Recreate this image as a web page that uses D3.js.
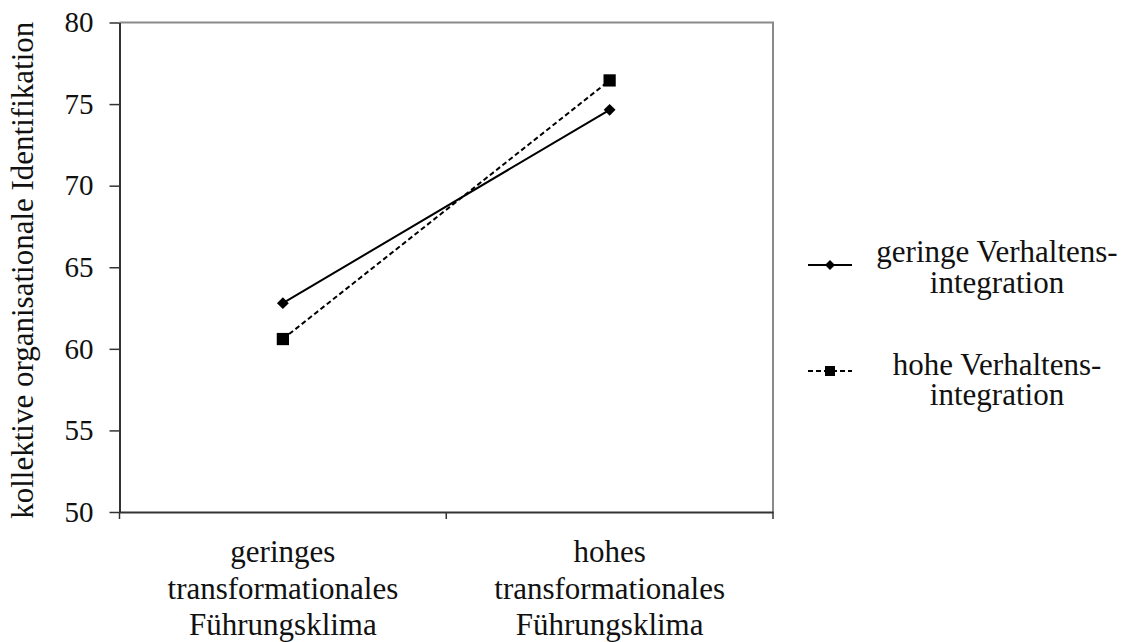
<!DOCTYPE html>
<html>
<head>
<meta charset="utf-8">
<script src="https://cdn.jsdelivr.net/npm/d3@7"></script>
</head>
<body style="margin:0;padding:0;background:#fff">
<svg id="chart" width="1125" height="642" style="display:block" font-family="Liberation Serif"></svg>
<script>
// ---- data ----
const categories = ["geringes transformationales Führungsklima", "hohes transformationales Führungsklima"];
const categoryLines = [["geringes", "transformationales", "Führungsklima"], ["hohes", "transformationales", "Führungsklima"]];
const seriesNames = ["geringe Verhaltens-integration", "hohe Verhaltens-integration"];
const seriesLabelLines = [["geringe Verhaltens-", "integration"], ["hohe Verhaltens-", "integration"]];
const geringeValues = [62.8, 74.65];
const hoheValues = [60.6, 76.45];
const yTicks = [50, 55, 60, 65, 70, 75, 80];
const yTitle = "kollektive organisationale Identifikation";

(function () {
const FONT = "Liberation Serif";
const setFont = (sel, size) => sel.attr("font-family", FONT).attr("font-size", size)
  .style("font-family", `'${FONT}'`).style("font-size", size + "px");
const svg = d3.select("#chart");
const pLeft = 119.5, pRight = 773, pTop = 22.5, pBottom = 512;

const x = d3.scaleBand().domain(categories).range([pLeft, pRight]).paddingInner(0).paddingOuter(0);
const y = d3.scaleLinear().domain([50, 80]).range([pBottom, pTop]);

// plot border (top/right, gray)
svg.append("path")
  .attr("d", `M${pLeft},${pTop}H${pRight}V${pBottom}`)
  .attr("fill", "none").attr("stroke", "#8a8a8a").attr("stroke-width", 2);

// y axis
const yAxis = svg.append("g").attr("transform", `translate(${pLeft},0)`)
  .call(d3.axisLeft(y).tickValues(yTicks).tickSize(10).tickPadding(16).tickSizeOuter(0));
setFont(yAxis, 29);
yAxis.select(".domain").attr("stroke", "#333").attr("stroke-width", 2);
yAxis.selectAll(".tick line").attr("stroke", "#333").attr("stroke-width", 1.5);
setFont(yAxis.selectAll(".tick text"), 29).attr("fill", "#111");

// x axis
const xAxis = svg.append("g").attr("transform", `translate(0,${pBottom})`)
  .call(d3.axisBottom(x).tickSize(0).tickSizeOuter(0).tickFormat(""));
xAxis.select(".domain").attr("stroke", "#333").attr("stroke-width", 2);
xAxis.selectAll(".tick text").remove();
const boundaries = [x(categories[0])].concat(categories.map(c => x(c) + x.bandwidth()));
svg.append("g").selectAll("line").data(boundaries).join("line")
  .attr("x1", d => d).attr("x2", d => d).attr("y1", pBottom).attr("y2", pBottom + 7)
  .attr("stroke", "#333").attr("stroke-width", 1.5);

// category labels
categories.forEach((c, i) => {
  categoryLines[i].forEach((ln, j) => {
    setFont(svg.append("text"), 31).attr("text-anchor", "middle").attr("fill", "#111")
      .attr("x", x(c) + x.bandwidth() / 2).attr("y", 562 + j * 36.5).text(ln);
  });
});

// y title
setFont(svg.append("text"), 31)
  .attr("transform", `translate(33,${(pTop + pBottom) / 2 + 3}) rotate(-90)`)
  .attr("text-anchor", "middle").attr("fill", "#111").text(yTitle);

// lines
const cx = c => x(c) + x.bandwidth() / 2;
const lineGen = d3.line().x(d => cx(d.cat)).y(d => y(d.v));
const series = [
  { name: seriesNames[0], values: geringeValues, dash: null, marker: "diamond" },
  { name: seriesNames[1], values: hoheValues, dash: "5,3", marker: "square" }
];
series.forEach(s => {
  const pts = categories.map((c, i) => ({ cat: c, v: s.values[i] }));
  svg.append("path").datum(pts).attr("d", lineGen)
    .attr("fill", "none").attr("stroke", "#000").attr("stroke-width", 2)
    .attr("stroke-dasharray", s.dash);
  svg.append("g").selectAll("path").data(pts).join("path")
    .attr("transform", d => s.marker === "diamond"
      ? `translate(${cx(d.cat)},${y(d.v)}) rotate(45)`
      : `translate(${cx(d.cat)},${y(d.v)})`)
    .attr("d", d3.symbol().type(d3.symbolSquare).size(s.marker === "diamond" ? 70 : 150)())
    .attr("fill", "#000");
});

// legend
const legendY = [265, 371];
const textBase = [[262, 293], [375, 405]];
series.forEach((s, i) => {
  const g = svg.append("g");
  g.append("line").attr("x1", 808).attr("x2", 852).attr("y1", legendY[i]).attr("y2", legendY[i])
    .attr("stroke", "#000").attr("stroke-width", 2).attr("stroke-dasharray", s.dash);
  g.append("path")
    .attr("transform", s.marker === "diamond" ? `translate(830,${legendY[i]}) rotate(45)` : `translate(830,${legendY[i]})`)
    .attr("d", d3.symbol().type(d3.symbolSquare).size(s.marker === "diamond" ? 50 : 100)())
    .attr("fill", "#000");
  seriesLabelLines[i].forEach((ln, j) => {
    setFont(g.append("text"), 31).attr("text-anchor", "middle").attr("fill", "#111")
      .attr("x", 997).attr("y", textBase[i][j]).text(ln);
  });
});
})();
</script>
</body>
</html>
